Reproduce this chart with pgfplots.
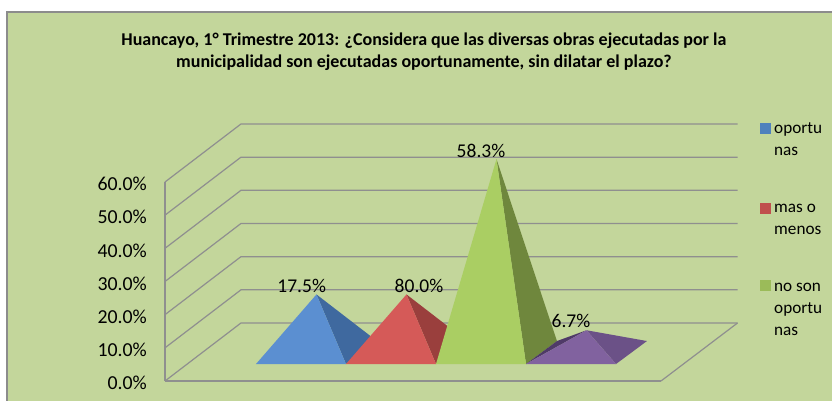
\documentclass[border=0pt]{standalone}
\usepackage{pgfplots}
\pgfplotsset{compat=1.18}
\usepackage{fontspec}
\setmainfont{Carlito}
\definecolor{bgc}{HTML}{C3D69B}
\definecolor{gridc}{HTML}{8F8F8F}
\definecolor{framec}{HTML}{8C8C8C}
\definecolor{bluef}{HTML}{5B8FD1}
\definecolor{blues}{HTML}{3F699F}
\definecolor{redf}{HTML}{D55A58}
\definecolor{reds}{HTML}{9A3F3D}
\definecolor{greenf}{HTML}{AACE63}
\definecolor{greens}{HTML}{6F873D}
\definecolor{purf}{HTML}{81629F}
\definecolor{purs}{HTML}{6B5187}
\definecolor{purd}{HTML}{4F3A68}
\definecolor{legb}{HTML}{4F81BD}
\definecolor{legr}{HTML}{C0504D}
\definecolor{legg}{HTML}{9BBB59}
\begin{document}
\begin{tikzpicture}[x=1pt,y=1pt]
\useasboundingbox (0,0) rectangle (832,401);
\fill[white] (0,0) rectangle (832,401);
\fill[bgc] (7,-5) rectangle (845,389);
\draw[framec,line width=1.8pt] (7,-5) rectangle (845,389);
\begin{axis}[
  at={(165pt,20pt)},anchor=south west,
  width=496pt,height=199pt,scale only axis,
  xmin=-1.511,xmax=4,ymin=0,ymax=60,
  clip=false,
  axis x line*=bottom,axis y line*=left,
  axis line style={gridc,line width=1.2pt,-},
  xtick=\empty,
  ytick={0,10,20,30,40,50,60},
  major tick length=0pt,
  yticklabel={\pgfmathprintnumber[fixed,fixed zerofill,precision=1,assume math mode=true]{\tick}\%},
  yticklabel style={font=\fontsize{19.8}{22}\selectfont,anchor=east,inner sep=0pt,xshift=-18pt,yshift=-2pt},
  title style={at={(rel axis cs:0.522,1.623)},anchor=center,align=center,
    font=\fontsize{18}{22}\selectfont\bfseries,inner sep=0pt},
  title={Huancayo, 1° Trimestre 2013: ¿Considera que las diversas obras ejecutadas por la\\municipalidad son ejecutadas oportunamente, sin dilatar el plazo?},
  legend style={at={(rel axis cs:1.2,1.307)},anchor=north west,draw=none,fill=none,
    font=\fontsize{17.2}{22}\selectfont,inner sep=0pt,outer sep=0pt,
    cells={anchor=west,align=left},row sep=43pt,column sep=2pt},
  legend cell align=left,
]
% walls and floor
\addplot[gridc,line width=1.2pt,forget plot] coordinates {(-1.511,0) (-0.667,17.49) (4.85,17.49)};
\addplot[gridc,line width=1.2pt,forget plot] coordinates {(-1.511,10) (-0.667,27.49) (4.85,27.49)};
\addplot[gridc,line width=1.2pt,forget plot] coordinates {(-1.511,20) (-0.667,37.49) (4.85,37.49)};
\addplot[gridc,line width=1.2pt,forget plot] coordinates {(-1.511,30) (-0.667,47.49) (4.85,47.49)};
\addplot[gridc,line width=1.2pt,forget plot] coordinates {(-1.511,40) (-0.667,57.49) (4.85,57.49)};
\addplot[gridc,line width=1.2pt,forget plot] coordinates {(-1.511,50) (-0.667,67.49) (4.85,67.49)};
\addplot[gridc,line width=1.2pt,forget plot] coordinates {(-1.511,60) (-0.667,77.49) (4.85,77.49)};
\addplot[gridc,line width=1.2pt,forget plot] coordinates {(4,0) (4.85,17.49)};
% oportunas: 17.5
\addplot[fill=blues,draw=none,forget plot] coordinates {(0.5,5.12) (0.844,12.05) (0.172,26.1)};
\addplot[fill=bluef,draw=none,forget plot] coordinates {(-0.5,5.12) (0.5,5.12) (0.172,26.1)};
% mas o menos: 17.5 (labelled 80.0)
\addplot[fill=reds,draw=none,forget plot] coordinates {(1.5,5.12) (1.844,12.05) (1.172,26.1)};
\addplot[fill=redf,draw=none,forget plot] coordinates {(0.5,5.12) (1.5,5.12) (1.172,26.1)};
% no son oportunas: 58.3
\addplot[fill=greens,draw=none,forget plot] coordinates {(2.5,5.12) (2.844,12.05) (2.172,66.9)};
\addplot[fill=greenf,draw=none,forget plot] coordinates {(1.5,5.12) (2.5,5.12) (2.172,66.9)};
% fourth: 6.7
\addplot[fill=purd,draw=none,forget plot] coordinates {(2.5,5.12) (2.844,12.05) (3.172,15.3)};
\addplot[fill=purs,draw=none,forget plot] coordinates {(3.5,5.12) (3.844,12.05) (3.172,15.3)};
\addplot[fill=purf,draw=none,forget plot] coordinates {(2.5,5.12) (3.5,5.12) (3.172,15.3)};
% data labels
\addplot[draw=none,forget plot,nodes near coords,point meta=explicit symbolic,
  every node near coord/.style={anchor=center,inner sep=0pt,font=\fontsize{19.5}{22}\selectfont}]
  table[meta=l] {
x y l
0.008 28.8 17.5\%
1.311 28.6 80.0\%
2.0 69.3 58.3\%
3.0 18.0 6.7\%
};
\addlegendimage{legend image code/.code={\fill[legb,overlay] (0pt,7pt) rectangle (10pt,17pt); \path[draw=none] (0pt,0pt) rectangle (10pt,5pt);}}
\addlegendentry{oportu\\nas}
\addlegendimage{legend image code/.code={\fill[legr,overlay] (0pt,7.5pt) rectangle (10pt,17.5pt); \path[draw=none] (0pt,0pt) rectangle (10pt,5pt);}}
\addlegendentry{mas o\\menos}
\addlegendimage{legend image code/.code={\fill[legg,overlay] (0pt,20pt) rectangle (10pt,30pt); \path[draw=none] (0pt,0pt) rectangle (10pt,5pt);}}
\addlegendentry{no son\\oportu\\nas}
\end{axis}
\end{tikzpicture}
\end{document}
